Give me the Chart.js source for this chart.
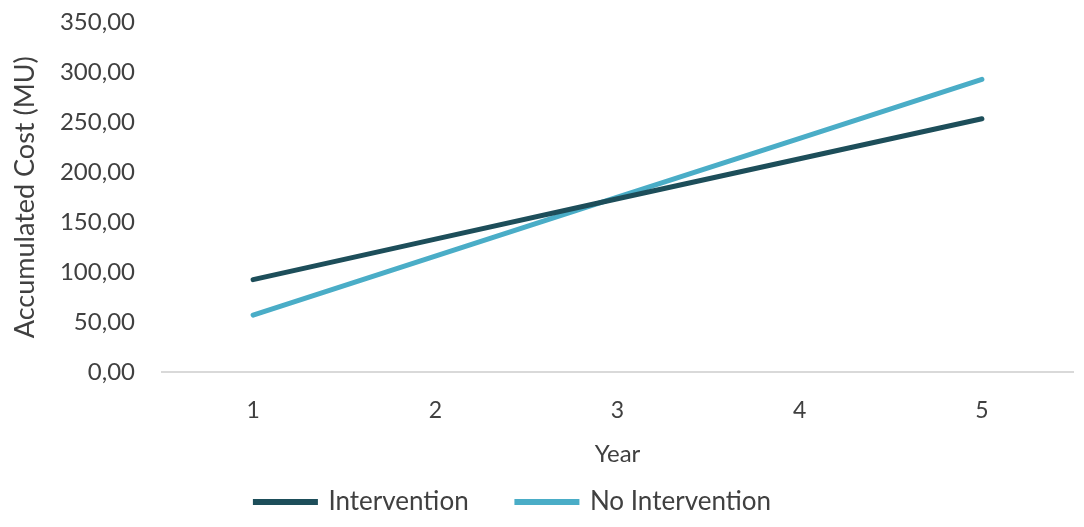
<!DOCTYPE html>
<html>
<head>
<meta charset="utf-8">
<script src="https://cdn.jsdelivr.net/npm/chart.js@4"></script>
<style>
  html, body { margin: 0; padding: 0; background: #fff; }
  #wrap { width: 1084px; height: 527px; }
</style>
</head>
<body>
<div id="wrap"><canvas id="costChart"></canvas></div>
<script>
const years = ["1", "2", "3", "4", "5"];
const intervention = [92.5, 133, 173.5, 213.5, 253.5];
const noIntervention = [57, 116, 175, 234, 293];
const yTicks = [0, 50, 100, 150, 200, 250, 300, 350];

const textColor = "#404040";
const fontFamily = "Lato, 'Open Sans', sans-serif";

let ctx = document.getElementById("costChart").getContext("2d");
let costChart = new Chart(ctx, {
  type: "line",
  data: {
    labels: years,
    datasets: [
      {
        label: "Intervention",
        data: intervention,
        borderColor: "#1d4e5a",
        backgroundColor: "#1d4e5a",
        borderWidth: 5,
        borderCapStyle: "round",
        pointRadius: 0,
        tension: 0
      },
      {
        label: "No Intervention",
        data: noIntervention,
        borderColor: "#4aadc7",
        backgroundColor: "#4aadc7",
        borderWidth: 5,
        borderCapStyle: "round",
        pointRadius: 0,
        tension: 0
      }
    ]
  },
  options: {
    responsive: true,
    maintainAspectRatio: false,
    animation: false,
    layout: { padding: { top: 0, right: 11, bottom: 2, left: 0 } },
    plugins: {
      tooltip: { enabled: false },
      legend: {
        position: "bottom",
        labels: {
          color: textColor,
          font: { family: fontFamily, size: 26 },
          boxWidth: 60,
          boxHeight: 1,
          padding: 15,
          // extra gap between the two entries, like the original legend
          generateLabels: (chart) => {
            const items = Chart.defaults.plugins.legend.labels.generateLabels(chart);
            items[0].lineCap = "round";
            items[1].lineCap = "round";
            items[0].text += "     ";
            items[1].text += "       ";
            return items;
          }
        }
      }
    },
    scales: {
      x: {
        offset: true,
        grid: { display: false, drawTicks: false },
        border: { display: true, color: "#d9d9d9", width: 2 },
        afterFit: (axis) => { axis.height = 102; },
        ticks: {
          color: textColor,
          font: { family: fontFamily, size: 23 },
          padding: 25
        },
        title: {
          display: true,
          text: "Year",
          color: textColor,
          font: { family: fontFamily, size: 24 },
          padding: { top: 10, bottom: 5 }
        }
      },
      y: {
        min: 0,
        max: 350,
        afterBuildTicks: (axis) => {
          axis.ticks = yTicks.map((v) => ({ value: v }));
        },
        afterFit: (axis) => { axis.width = 162; },
        grid: {
          display: true,
          drawOnChartArea: false,
          drawTicks: true,
          tickLength: 19,
          tickColor: "rgba(0,0,0,0)"
        },
        border: { display: false },
        ticks: {
          color: textColor,
          font: { family: fontFamily, size: 24 },
          padding: 8,
          callback: (v) => v.toFixed(2).replace(".", ",")
        },
        title: {
          display: true,
          text: "Accumulated Cost (MU)",
          color: textColor,
          font: { family: fontFamily, size: 27 },
          padding: { top: 9, bottom: 4 }
        }
      }
    }
  }
});
</script>
</body>
</html>
